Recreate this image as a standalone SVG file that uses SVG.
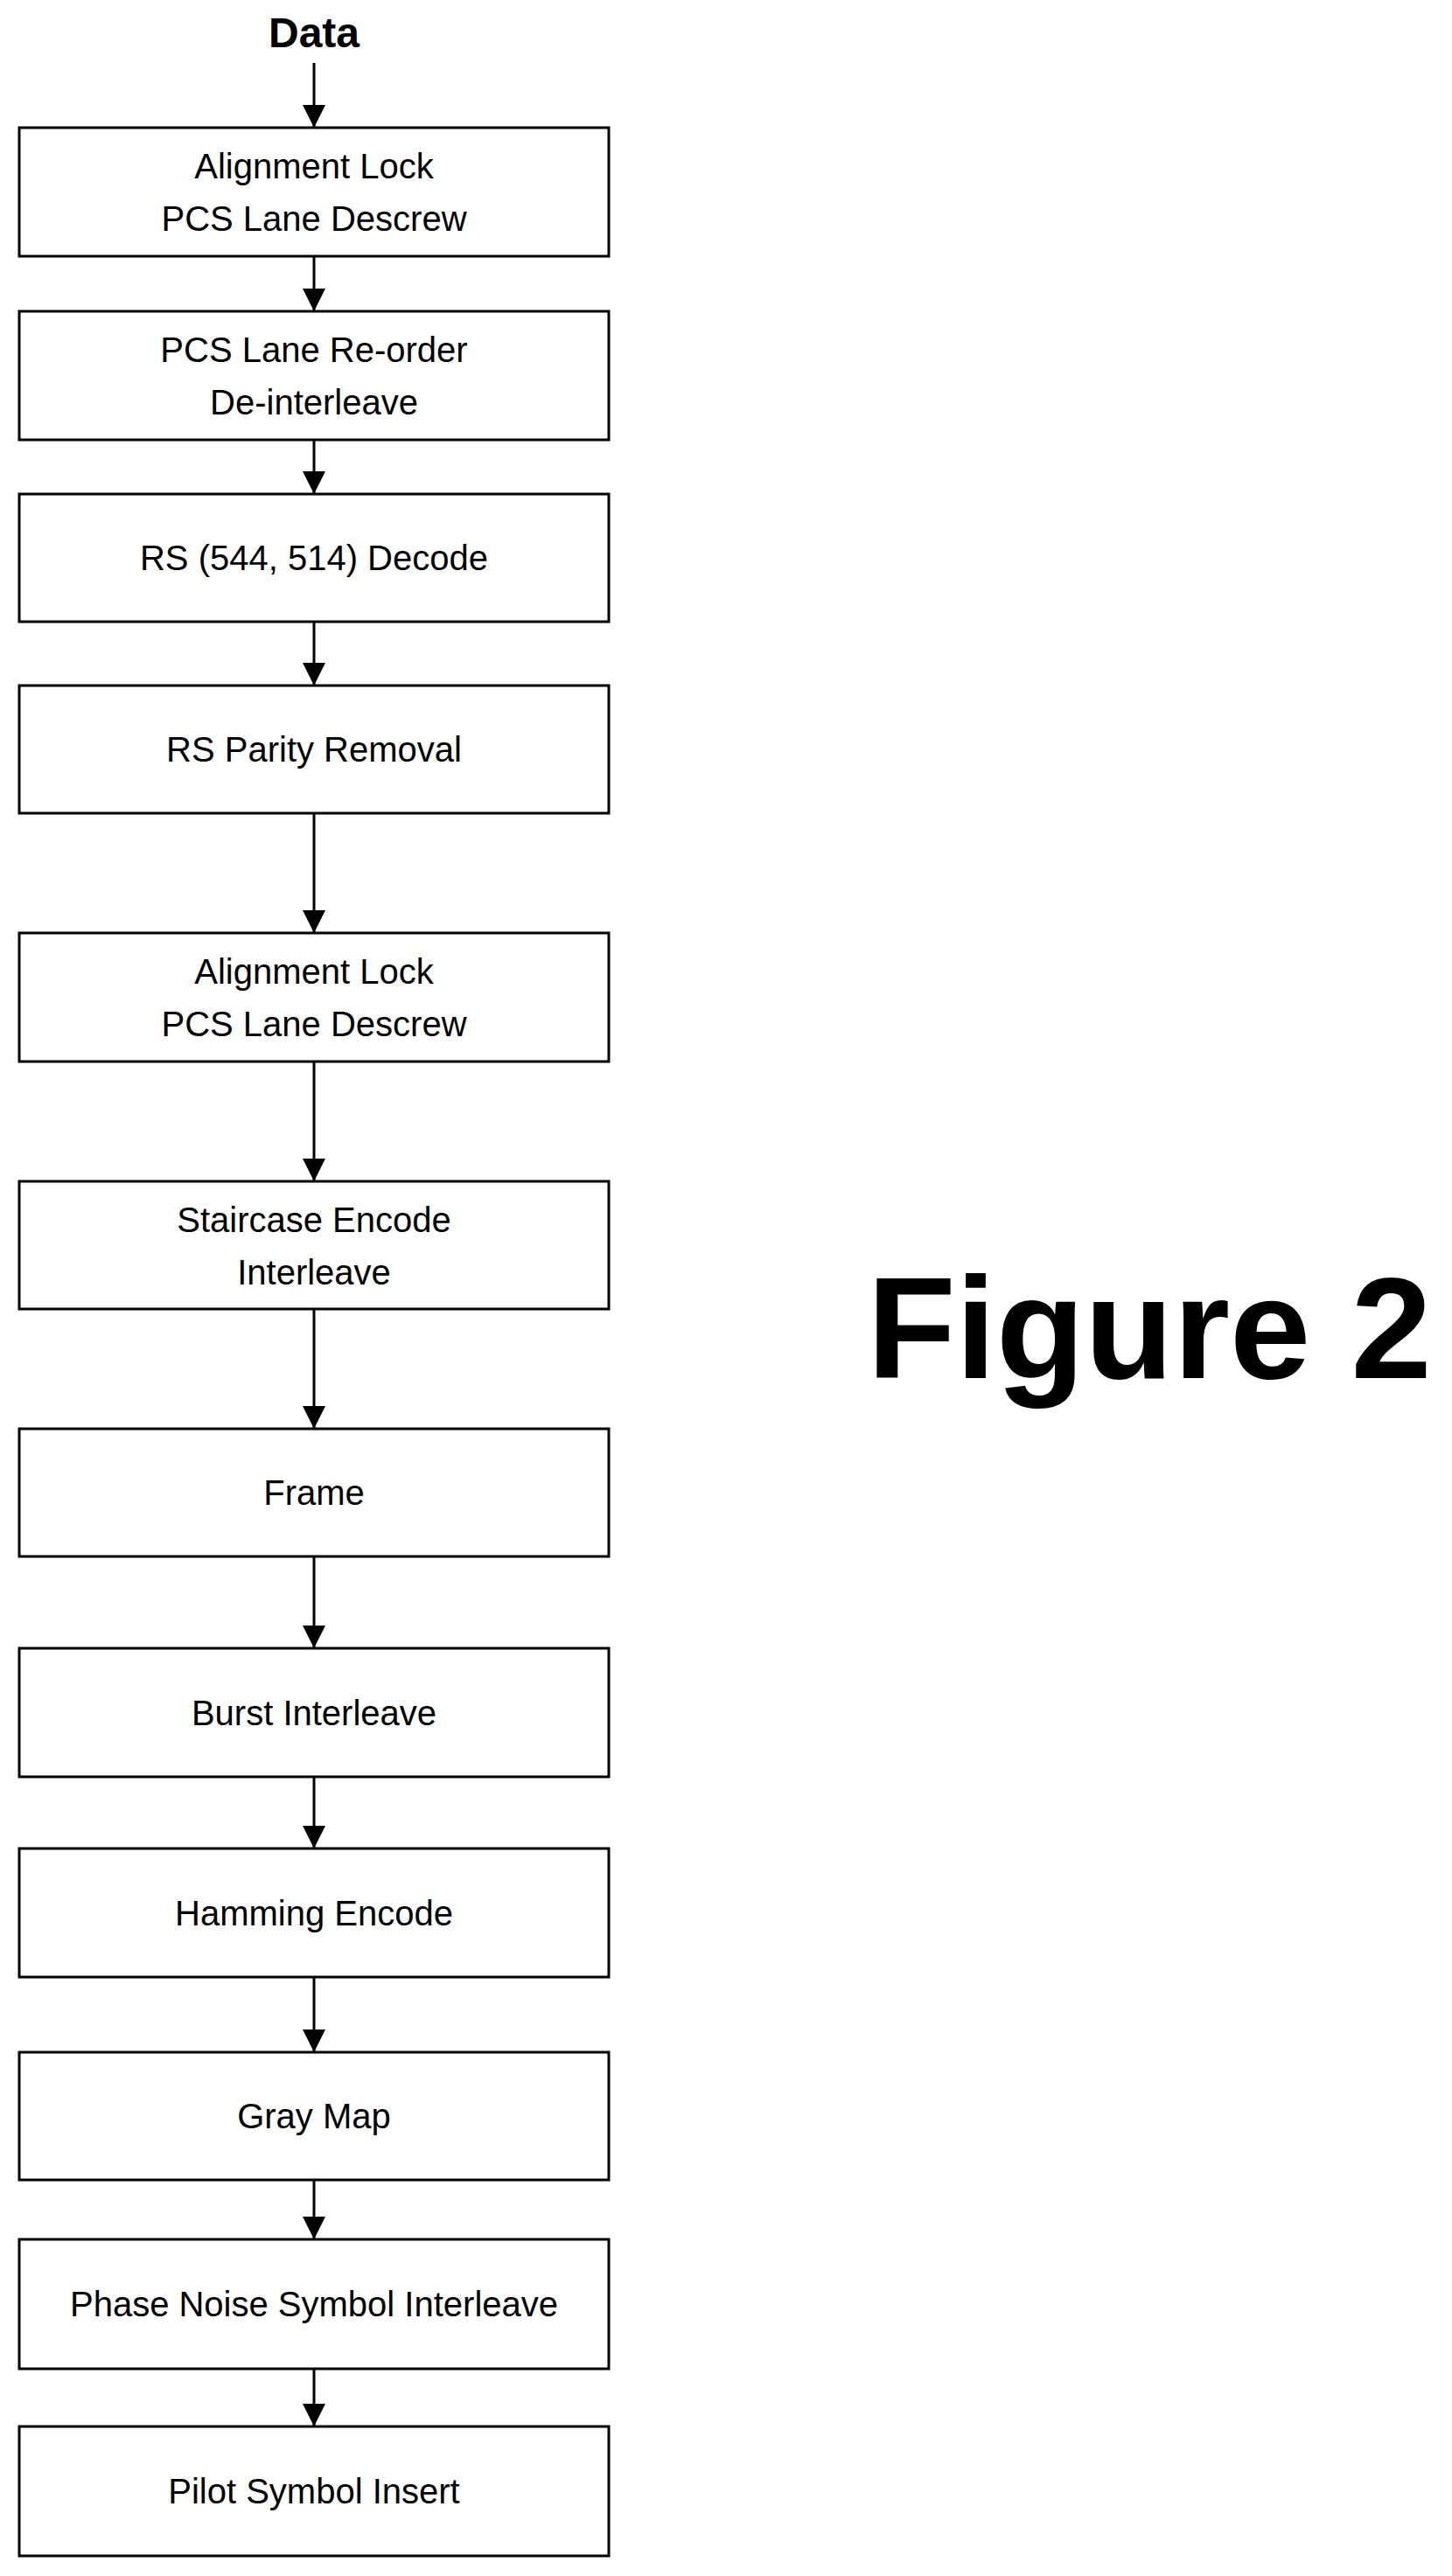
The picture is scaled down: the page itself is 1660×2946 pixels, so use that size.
<svg xmlns="http://www.w3.org/2000/svg" width="1660" height="2946" viewBox="0 0 1660 2946">
<style>
rect.b{fill:#fff;stroke:#000;stroke-width:3}
text{font-family:"Liberation Sans",Arial,sans-serif;font-size:40px;text-anchor:middle;fill:#000}
.c line{stroke:#000;stroke-width:3}
</style>
<defs>
<marker id="h" viewBox="0 0 10 10" refX="10" refY="5" markerWidth="40" markerHeight="26" markerUnits="userSpaceOnUse" orient="auto"><path d="M0,0L10,5L0,10z"/></marker></defs>
<text x="359" y="54" style="font-weight:bold;font-size:48px">Data</text>
<g class="c">
<line x1="359" y1="72" x2="359" y2="146" marker-end="url(#h)"/>
<line x1="359" y1="293" x2="359" y2="356" marker-end="url(#h)"/>
<line x1="359" y1="503" x2="359" y2="565" marker-end="url(#h)"/>
<line x1="359" y1="711" x2="359" y2="784" marker-end="url(#h)"/>
<line x1="359" y1="930" x2="359" y2="1067" marker-end="url(#h)"/>
<line x1="359" y1="1214" x2="359" y2="1351" marker-end="url(#h)"/>
<line x1="359" y1="1497" x2="359" y2="1634" marker-end="url(#h)"/>
<line x1="359" y1="1780" x2="359" y2="1885" marker-end="url(#h)"/>
<line x1="359" y1="2032" x2="359" y2="2114" marker-end="url(#h)"/>
<line x1="359" y1="2261" x2="359" y2="2347" marker-end="url(#h)"/>
<line x1="359" y1="2493" x2="359" y2="2561" marker-end="url(#h)"/>
<line x1="359" y1="2709" x2="359" y2="2775" marker-end="url(#h)"/>
</g>
<g id="n1"><rect class="b" x="22" y="146" width="674" height="147"/><text x="359" y="204">Alignment Lock</text><text x="359" y="264">PCS Lane Descrew</text></g>
<g id="n2"><rect class="b" x="22" y="356" width="674" height="147"/><text x="359" y="414">PCS Lane Re-order</text><text x="359" y="474">De-interleave</text></g>
<g id="n3"><rect class="b" x="22" y="565" width="674" height="146"/><text x="359" y="652">RS (544, 514) Decode</text></g>
<g id="n4"><rect class="b" x="22" y="784" width="674" height="146"/><text x="359" y="871">RS Parity Removal</text></g>
<g id="n5"><rect class="b" x="22" y="1067" width="674" height="147"/><text x="359" y="1125">Alignment Lock</text><text x="359" y="1185">PCS Lane Descrew</text></g>
<g id="n6"><rect class="b" x="22" y="1351" width="674" height="146"/><text x="359" y="1409">Staircase Encode</text><text x="359" y="1469">Interleave</text></g>
<g id="n7"><rect class="b" x="22" y="1634" width="674" height="146"/><text x="359" y="1721">Frame</text></g>
<g id="n8"><rect class="b" x="22" y="1885" width="674" height="147"/><text x="359" y="1973">Burst Interleave</text></g>
<g id="n9"><rect class="b" x="22" y="2114" width="674" height="147"/><text x="359" y="2202">Hamming Encode</text></g>
<g id="n10"><rect class="b" x="22" y="2347" width="674" height="146"/><text x="359" y="2434">Gray Map</text></g>
<g id="n11"><rect class="b" x="22" y="2561" width="674" height="148"/><text x="359" y="2649">Phase Noise Symbol Interleave</text></g>
<g id="n12"><rect class="b" x="22" y="2775" width="674" height="148"/><text x="359" y="2863">Pilot Symbol Insert</text></g>
<text x="1314" y="1576" style="font-weight:bold;font-size:166px">Figure 2</text>
</svg>
